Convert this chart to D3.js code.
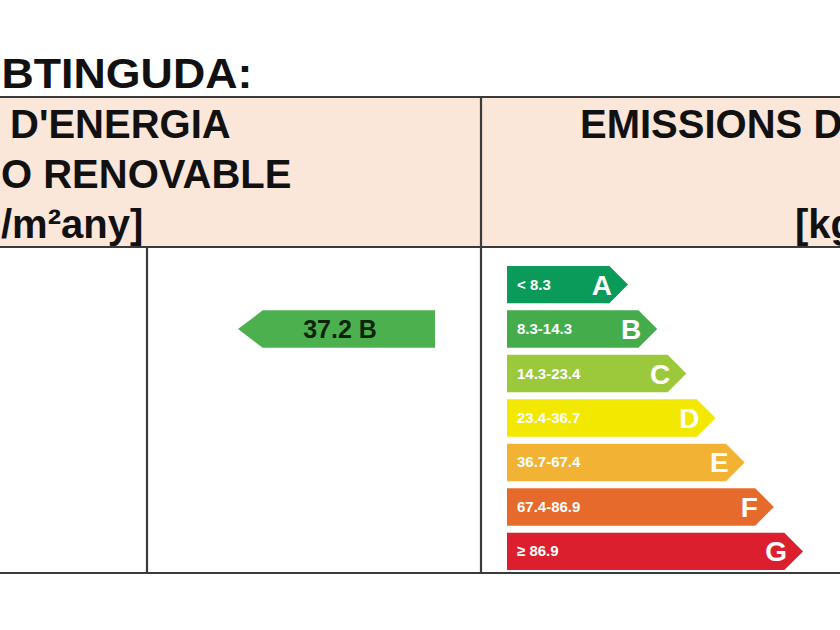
<!DOCTYPE html>
<html>
<head>
<meta charset="utf-8">
<script src="https://cdn.jsdelivr.net/npm/d3@7"></script>
<style>
  body { margin: 0; background: #fff; }
  svg { display: block; font-family: "Liberation Sans", Arial, sans-serif; }
</style>
</head>
<body>
<div id="chart"></div>
<script>
// rating classes and their emission ranges
const classes = ['A', 'B', 'C', 'D', 'E', 'F', 'G'];
const ranges = ['< 8.3', '8.3-14.3', '14.3-23.4', '23.4-36.7', '36.7-67.4', '67.4-86.9', '≥ 86.9'];
const colors = ['#0a9a5a', '#45ac4c', '#9cc83c', '#f2e800', '#f2b334', '#e66a2c', '#dc1f2e'];

// obtained value
const resultValue = [37.2];
const resultClass = ['B'];

// header texts (visible part of the cropped certificate)
const titleText = 'OBTINGUDA:';
const leftHeader = ["D'ENERGIA", 'O RENOVABLE', '/m²any]'];
const rightHeader = ['EMISSIONS D', '[kg'];

const width = 840, height = 630;

const svg = d3.select('#chart').append('svg')
  .attr('width', width)
  .attr('height', height);

// title
svg.append('text')
  .attr('x', -32)
  .attr('y', 88)
  .attr('font-size', 43)
  .attr('font-weight', 'bold')
  .attr('fill', '#111')
  .attr('transform', 'scale(1.04,1)')
  .text(titleText);

// header band
svg.append('rect')
  .attr('x', 0).attr('y', 97)
  .attr('width', width).attr('height', 150)
  .attr('fill', '#fbe6da');

const headerX = [10, 1, 1];
svg.append('g')
  .selectAll('text')
  .data(leftHeader)
  .join('text')
  .attr('x', (d, i) => headerX[i])
  .attr('y', (d, i) => 138 + i * 50)
  .attr('font-size', 40)
  .attr('font-weight', 'bold')
  .attr('fill', '#111')
  .text(d => d);

svg.append('text')
  .attr('x', 580).attr('y', 138)
  .attr('font-size', 40).attr('font-weight', 'bold').attr('fill', '#111')
  .text(rightHeader[0]);
svg.append('text')
  .attr('x', 795).attr('y', 238)
  .attr('font-size', 40).attr('font-weight', 'bold').attr('fill', '#111')
  .text(rightHeader[1]);

// table lines
const lines = svg.append('g').attr('stroke', '#3a3a3a').attr('stroke-width', 2.2);
lines.append('line').attr('x1', 0).attr('x2', width).attr('y1', 97).attr('y2', 97);
lines.append('line').attr('x1', 0).attr('x2', width).attr('y1', 247).attr('y2', 247);
lines.append('line').attr('x1', 0).attr('x2', width).attr('y1', 573).attr('y2', 573);
lines.append('line').attr('x1', 147).attr('x2', 147).attr('y1', 247).attr('y2', 573);
lines.append('line').attr('x1', 481).attr('x2', 481).attr('y1', 97).attr('y2', 573);

// scales
const y = d3.scaleBand()
  .domain(classes)
  .range([265, 571])
  .paddingInner(0.16)
  .paddingOuter(0.02);

const tipX = d3.scaleLinear()
  .domain([0, classes.length - 1])
  .range([628, 803]);

const barX = 507;
const h = y.bandwidth();

// rating arrows
const rows = svg.append('g')
  .selectAll('g')
  .data(classes)
  .join('g')
  .attr('transform', d => `translate(0,${y(d)})`);

rows.append('path')
  .attr('d', (d, i) => {
    const t = tipX(i);
    return `M${barX},0 H${t - h / 2} L${t},${h / 2} L${t - h / 2},${h} H${barX} Z`;
  })
  .attr('fill', (d, i) => colors[i]);

rows.append('text')
  .attr('x', barX + 10)
  .attr('y', h / 2 + 5)
  .attr('font-size', 15)
  .attr('font-weight', 'bold')
  .attr('fill', '#fff')
  .text((d, i) => ranges[i]);

rows.append('text')
  .attr('x', (d, i) => tipX(i) - 16)
  .attr('y', h / 2 + 10)
  .attr('text-anchor', 'end')
  .attr('font-size', 28)
  .attr('font-weight', 'bold')
  .attr('fill', '#fff')
  .text(d => d);

// obtained result arrow (points left)
const ry = y(resultClass[0]);
const indicator = svg.append('g').attr('transform', `translate(0,${ry})`);
indicator.append('path')
  .attr('d', `M238,${h / 2} L${238 + h / 2 + 6},0 H435 V${h} H${238 + h / 2 + 6} Z`)
  .attr('fill', '#4db04f');
indicator.append('text')
  .attr('x', 340)
  .attr('y', h / 2 + 9)
  .attr('text-anchor', 'middle')
  .attr('font-size', 25)
  .attr('font-weight', 'bold')
  .attr('fill', '#0d240d')
  .text(resultValue[0] + ' ' + resultClass[0]);
</script>
</body>
</html>
